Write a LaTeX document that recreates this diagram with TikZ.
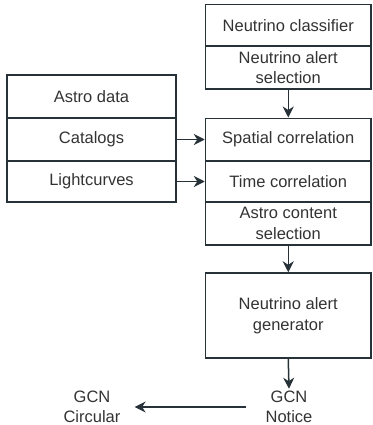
\documentclass[tikz,border=0pt]{standalone}
\usepackage{fontspec}
\setmainfont{Liberation Sans}
\usetikzlibrary{arrows.meta}
\definecolor{linec}{HTML}{263238}
\definecolor{textc}{HTML}{333333}
\begin{document}
\begin{tikzpicture}[x=1pt,y=-1pt,
  box/.style={draw=linec,line width=1.5pt,rectangle,minimum height=#1,inner sep=0pt,align=center,text=textc,font=\fontsize{16.5}{20.5}\selectfont},
  rbox/.style={box=#1,minimum width=165.5pt},
  lbox/.style={box=#1,minimum width=169pt},
  lbl/.style={align=center,text=textc,inner sep=0pt,font=\fontsize{16.5}{20.5}\selectfont},
  arr/.style={draw=linec,line width=1.5pt,-{Stealth[length=11pt,width=11pt,inset=3.5pt]}}]
\useasboundingbox (0,0) rectangle (372,425);
\node[rbox=41.5pt] (cls) at (288.25,25.5) {Neutrino classifier};
\node[rbox=42.5pt] (sel) at (288.25,67.75) {Neutrino alert\\selection};
\node[rbox=42.5pt] (spa) at (288.25,139.5) {Spatial correlation};
\node[rbox=41.5pt] (tim) at (288.25,181.5) {Time correlation};
\node[rbox=43pt] (ast) at (288.25,223.5) {Astro content\\selection};
\node[rbox=85pt] (gen) at (288.25,315.5) {Neutrino alert\\generator};
\node[lbox=43pt] (adat) at (91.5,96.5) {Astro data};
\node[lbox=43pt] (cat) at (91.5,139.5) {Catalogs};
\node[lbox=41pt] (lc) at (91.5,181.5) {Lightcurves};
\node[lbl] (gcnn) at (289,407) {GCN\\Notice};
\node[lbl] (gcnc) at (92,407) {GCN\\Circular};
\draw[arr] (sel.south) -- (spa.north);
\draw[arr] (ast.south) -- (gen.north);
\draw[arr] (gen.south) -- ([yshift=2pt]gcnn.north);
\draw[arr] (cat.east) -- (spa.west);
\draw[arr] (lc.east) -- (tim.west);
\draw[arr,shorten <=19pt,shorten >=14pt] (gcnn.west) -- (gcnc.east);
\end{tikzpicture}
\end{document}
